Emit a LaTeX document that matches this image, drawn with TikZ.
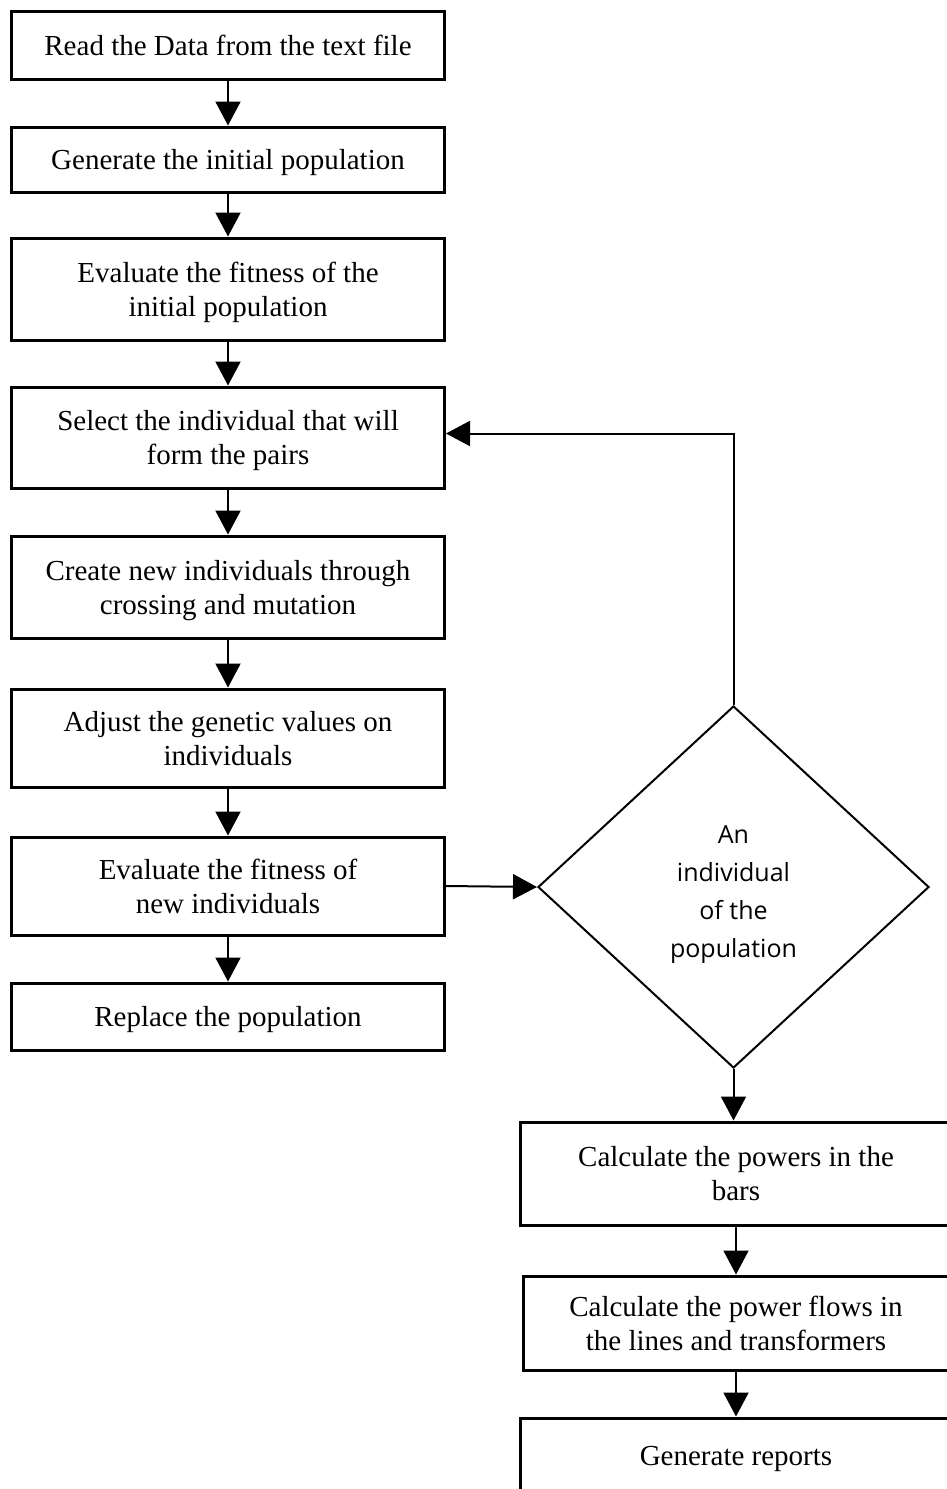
\documentclass[tikz,border=0pt]{standalone}
\usepackage{fontspec}
\setmainfont{Liberation Serif}
\newfontfamily\diafont{Open Sans}
\usetikzlibrary{positioning, arrows.meta, shapes.geometric}

\begin{document}
\begin{tikzpicture}[
    % GLOBAL CFG
    x=1pt, y=-1pt,
    font=\fontsize{29}{34}\selectfont,
    >={Triangle[length=24pt,width=25pt]},
    % Styles
    task/.style={% For process boxes
        rectangle,
        draw,
        line width=3pt,
        inner sep=2pt,
        text depth=0pt,
        minimum width=433pt,
        align=center,
    },
    decision/.style={% For the test
        diamond,
        draw,
        line width=2pt,
        minimum width=391pt,
        minimum height=362pt,
        inner sep=0pt,
        text height=140pt,
        text depth=0pt,
        align=center,
        font=\diafont\fontsize{25}{38}\selectfont,
    },
    ArrowC1/.style={% Straight arrows
        ->,
        line width=2pt,
    },
    ]
    \useasboundingbox (0,0) rectangle (946,1489);

    % Draw left column
    \node [task, minimum height=68pt] (read) at (228,45) {Read the Data from the text file};
    \node [task, minimum height=65pt] (initpop) at (228,159.5) {Generate the initial population};
    \node [task, minimum height=102pt] (evalinit) at (228,289) {Evaluate the fitness of the\\ initial population};
    \node [task, minimum height=101pt] (select) at (228,437.5) {Select the individual that will\\ form the pairs};
    \node [task, minimum height=102pt] (create) at (228,587) {Create new individuals through\\ crossing and mutation};
    \node [task, minimum height=98pt] (adjust) at (228,738) {Adjust the genetic values on\\ individuals};
    \node [task, minimum height=98pt] (evalnew) at (228,886) {Evaluate the fitness of\\ new individuals};
    \node [task, minimum height=67pt] (replace) at (228,1016.5) {Replace the population};

    % Draw decision
    \node [decision] (indiv) at (733.5,887) {An\\ individual\\ of the\\ population};

    % Draw right column
    \node [task, minimum width=432pt, minimum height=103pt] (powers) at (736,1173.5) {Calculate the powers in the\\ bars};
    \node [task, minimum width=426pt, minimum height=94pt] (flows) at (736,1323) {Calculate the power flows in\\ the lines and transformers};
    \node [task, minimum width=432pt, minimum height=76pt] (reports) at (736,1456) {Generate reports};

    % Arrows
    \foreach \a/\b in {read/initpop, initpop/evalinit, evalinit/select, select/create,
        create/adjust, adjust/evalnew, evalnew/replace, powers/flows, flows/reports}
        \draw [ArrowC1] (\a) -- (\b);
    \draw [ArrowC1] (evalnew.east) -- (indiv.west);
    \draw [ArrowC1] (indiv.north) |- ([yshift=4pt]select.east);
    \draw [ArrowC1] (indiv.south) -- (indiv.south |- powers.north);

\end{tikzpicture}
\end{document}
